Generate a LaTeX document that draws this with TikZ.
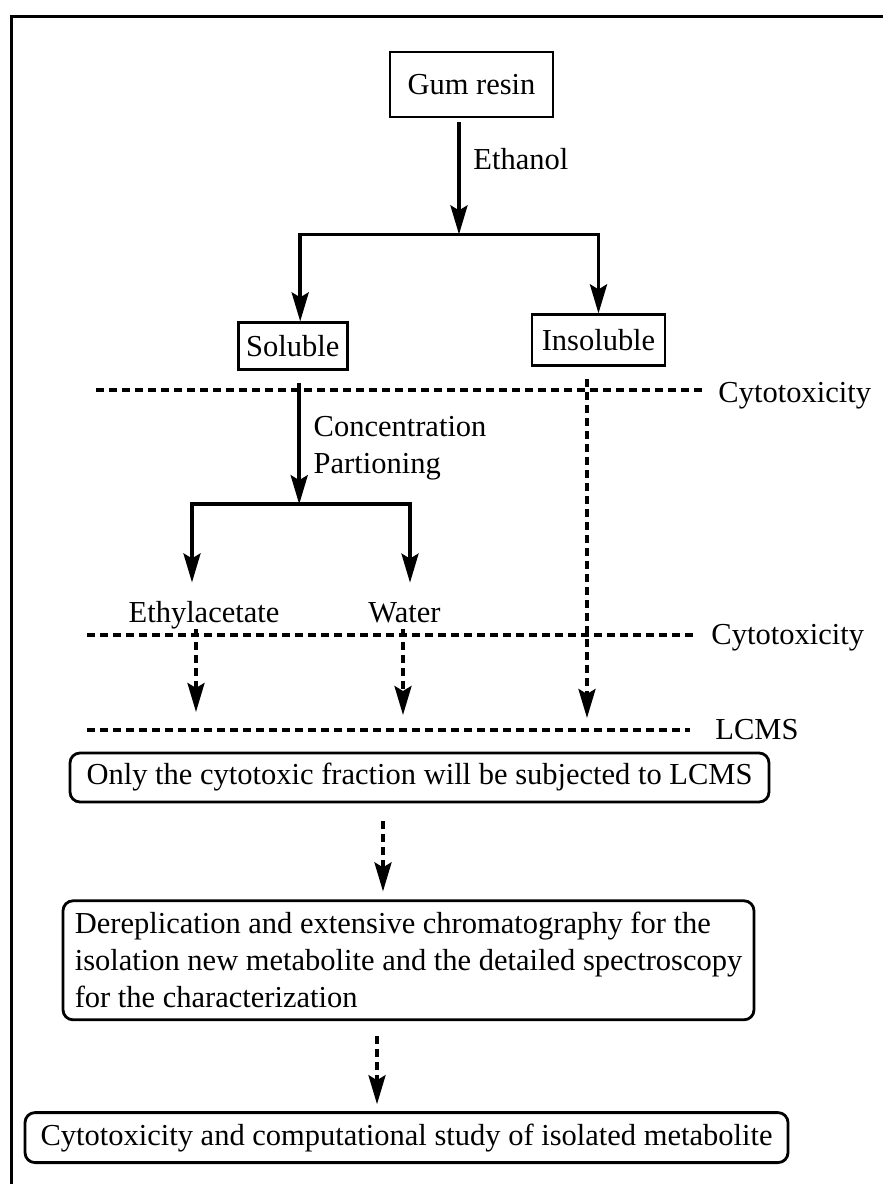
\documentclass[tikz,border=0pt]{standalone}
\usepackage{fontspec}
\setmainfont{Liberation Serif}
\usetikzlibrary{positioning}
\usetikzlibrary{calc}
\usetikzlibrary{arrows.meta}

\begin{document}
\begin{tikzpicture}[x=0.5pt,y=-0.5pt,font=\fontsize{15.25}{18.5}\selectfont,
		>={Stealth[length=14.5pt,width=8.5pt,inset=2.5pt]},
		sbox/.style={rectangle,draw=black,line width=1.4pt,inner sep=0pt},
		rbox/.style={sbox,rounded corners=5pt,align=left},
		arr/.style={line width=1.8pt,->},
		darr/.style={line width=1.8pt,->,dash pattern=on 4pt off 2.5pt},
		dline/.style={line width=1.8pt,dash pattern=on 4pt off 2.5pt}]
		\useasboundingbox (0,0) rectangle (883,1184);
		\draw[line width=1.5pt] (11,1184) -- (11,16) -- (883,16);
		\node[sbox,minimum width=81.5pt,minimum height=32.5pt] (gum) at (471.5,84.5){Gum resin};
		\node[sbox,minimum width=54.5pt,minimum height=23.5pt] (sol)[below left = 101.5pt and 20pt of gum]{Soluble};
		\node[sbox,minimum width=66.5pt,minimum height=25.5pt,yshift=3pt] (insol)[right = 91pt of sol]{Insoluble};
		\node[inner sep=0pt,anchor=base] (ethyl) at (204,622){Ethylacetate};
		\node[inner sep=0pt,anchor=base] (water) at (404.5,622){Water};
		\node[rbox,minimum width=349.5pt,minimum height=24.5pt] (only) at (419.5,777.5){Only the cytotoxic fraction will be subjected to LCMS};
		\node[rbox,minimum width=345.5pt,minimum height=59.5pt] (derep)[below = 48pt of only,xshift=-5.5pt]{Dereplication and extensive chromatography for the\\isolation new metabolite and the detailed spectroscopy\\for the characterization};
		\node[rbox,minimum width=381.5pt,minimum height=25pt] (study)[below = 45pt of derep,xshift=-1pt]{Cytotoxicity and computational study of isolated metabolite};
		\coordinate (split1) at ($(gum.south)+(-6.25pt,-58pt)$);
		\coordinate (split2) at ($(sol.south)+(3.25pt,-66.5pt)$);
		\coordinate (cut1) at (96,390);
		\coordinate (cut2) at (87,635);
		\coordinate (cut3) at (87,730);
		\coordinate (ethyltip) at (196,712);
		\coordinate (watertip) at (403,715);
		\coordinate (insoltip) at (587,718);
		% cut-off lines
		\draw[dline] (cut1) -- ++(303pt,0) node[right=4pt,yshift=-3pt] (cyt1){Cytotoxicity};
		\draw[dline] (cut2) -- ++(303pt,0) node[right=5pt,yshift=-1.5pt] (cyt2){Cytotoxicity};
		\draw[dline] (cut3) -- ++(301.5pt,0) node[right=8.5pt] (lcms){LCMS};
		\draw[arr] ($(gum.south)+(-6.25pt,-2pt)$) -- (split1) node[pos=.33,right=3pt] (ethanol){Ethanol};
		\draw[arr] (split1) -| ($(sol.north)+(3.75pt,0)$);
		\draw[arr] (split1) -| (insol.north);
		\draw[arr] ($(sol.south)+(3.25pt,-6pt)$) -- (split2) node[pos=.54,right=3pt,align=left] (conc){Concentration\\Partioning};
		\draw[arr] (split2) -| ($(ethyl.north)+(-6pt,9pt)$);
		\draw[arr] (split2) -| ($(water.north)+(2.75pt,9.5pt)$);
		\draw[darr] ($(ethyl.south)+(-4pt,0)$) -- (ethyltip);
		\draw[darr] ($(water.south)+(-0.75pt,-3pt)$) -- (watertip);
		\draw[darr] ($(insol.south)+(-5.75pt,-6pt)$) -- (insoltip);
		\draw[darr,shorten <=9pt,shorten >=4pt] ($(only.south)+(-18.25pt,0)$) -- ($(derep.north)+(-12.75pt,0)$);
		\draw[darr,shorten <=7.5pt,shorten >=3.5pt] ($(derep.south)+(-15.75pt,0)$) -- ($(study.north)+(-14.75pt,0)$);
	\end{tikzpicture}
\end{document}
